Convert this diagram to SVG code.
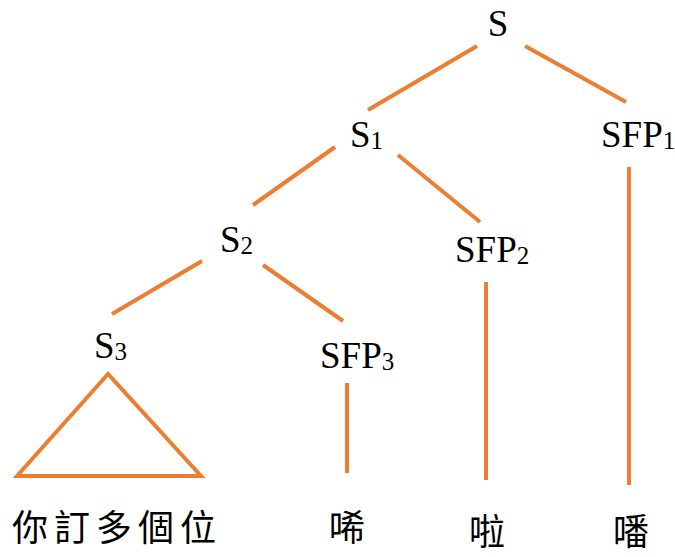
<svg xmlns="http://www.w3.org/2000/svg" width="675" height="557" viewBox="0 0 675 557">
<style>
.lbl{font-family:"Liberation Serif","Times New Roman",serif;font-size:37px;fill:#000}
.sub{font-size:25px}
.cjk{font-family:"Noto Sans CJK TC","Noto Sans CJK SC",serif;font-size:36px;fill:#000}
.ln{stroke:#ED7D31;stroke-width:4;fill:none}
</style>
<rect width="675" height="557" fill="#fff"/>
<g id="connectors">
<line class="ln" x1="477" y1="46" x2="368" y2="110"/>
<line class="ln" x1="525" y1="46" x2="626" y2="102"/>
<line class="ln" x1="335" y1="147" x2="253" y2="205"/>
<line class="ln" x1="398" y1="155" x2="480" y2="222"/>
<line class="ln" x1="202" y1="261" x2="112" y2="314"/>
<line class="ln" x1="263" y1="265" x2="343" y2="321"/>
<line class="ln" x1="629" y1="167" x2="629" y2="485"/>
<line class="ln" x1="486" y1="282" x2="486" y2="480"/>
<line class="ln" x1="347" y1="383" x2="347" y2="473"/>
</g>
<g id="S"><text class="lbl" x="498" y="36" text-anchor="middle">S</text></g>
<g id="S1"><text class="lbl" x="350" y="147">S<tspan class="sub" dy="2">1</tspan></text></g>
<g id="SFP1"><text class="lbl" x="601" y="147">SFP<tspan class="sub" dy="2">1</tspan></text></g>
<g id="S2"><text class="lbl" x="220" y="252">S<tspan class="sub" dy="2">2</tspan></text></g>
<g id="SFP2"><text class="lbl" x="455" y="262">SFP<tspan class="sub" dy="2">2</tspan></text></g>
<g id="S3"><text class="lbl" x="94" y="358">S<tspan class="sub" dy="2">3</tspan></text></g>
<g id="SFP3"><text class="lbl" x="320" y="368">SFP<tspan class="sub" dy="2">3</tspan></text></g>
<g id="triangle"><polygon class="ln" points="108,374 17,476 201,476"/></g>
<g id="w1"><text class="cjk" x="12" y="541" letter-spacing="6">你訂多個位</text></g>
<g id="w2"><text class="cjk" x="329" y="541">唏</text></g>
<g id="w3"><text class="cjk" x="469" y="545">啦</text></g>
<g id="w4"><text class="cjk" x="613" y="545">噃</text></g>
</svg>
